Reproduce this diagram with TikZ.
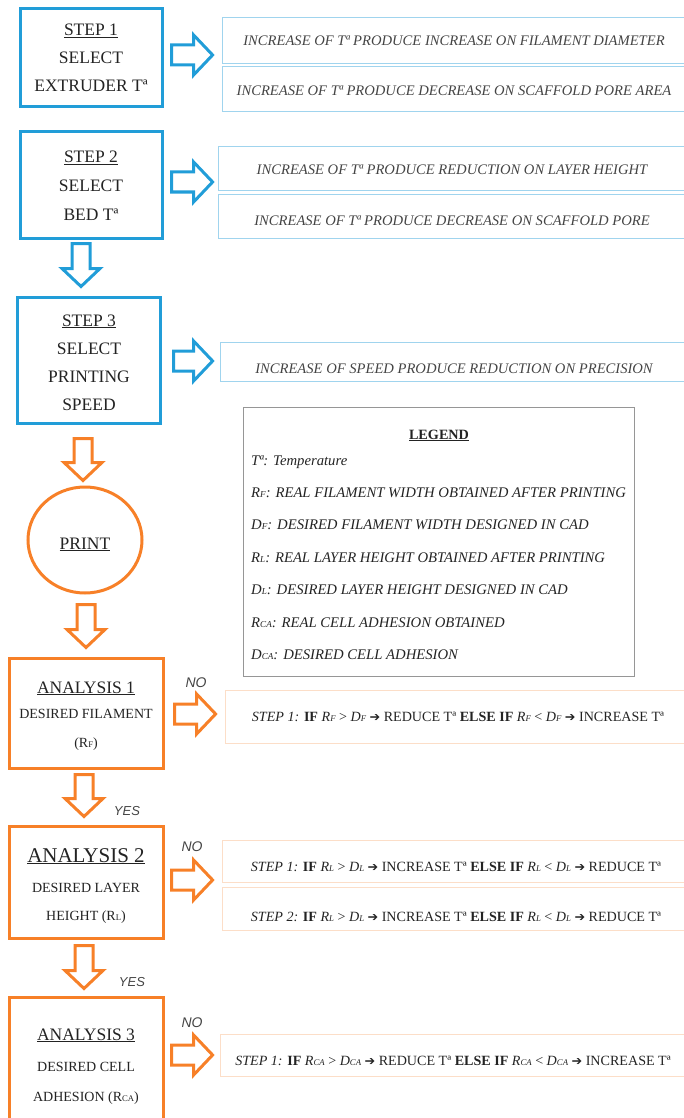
\documentclass[tikz,border=0pt]{standalone}
\usepackage{fontspec}
\setmainfont{Liberation Serif}
\newfontfamily\lsans{Liberation Sans}
\newfontfamily\djv{DejaVu Sans}
\usepackage{graphicx}
\usetikzlibrary{calc,shapes.geometric}
\definecolor{cblue}{RGB}{33,157,216}
\definecolor{corange}{RGB}{247,128,40}
\definecolor{lblue}{RGB}{160,212,238}
\definecolor{lorange}{RGB}{252,222,200}
\definecolor{lgray}{RGB}{150,150,150}
\definecolor{txt}{RGB}{35,35,35}
\newcommand\sm[1]{\scalebox{0.62}{#1}}
\newcommand\ar{{\djv\scalebox{0.9}{➔}}}
\newcommand\harrow[3]{\draw[#1] let \p1=(#2),\p2=(#3) in (\x1,\y1+10pt) -- (\x2-19pt,\y1+10pt) -- (\x2-19pt,\y1+20pt) -- (\x2,\y1) -- (\x2-19pt,\y1-20pt) -- (\x2-19pt,\y1-10pt) -- (\x1,\y1-10pt) -- cycle;}
\newcommand\varrow[3]{\draw[#1] let \p1=(#2),\p2=(#3) in (\x1-9pt,\y1) -- (\x1-9pt,\y2+18pt) -- (\x1-19pt,\y2+18pt) -- (\x1,\y2) -- (\x1+19pt,\y2+18pt) -- (\x1+9pt,\y2+18pt) -- (\x1+9pt,\y1) -- cycle;}
\begin{document}
\begin{tikzpicture}[x=1pt,y=-1pt,
  bbox/.style={draw=cblue,line width=3pt,inner sep=0pt},
  obox/.style={draw=corange,line width=3pt,inner sep=0pt},
  lbbox/.style={draw=lblue,line width=0.8pt,inner sep=0pt},
  lobox/.style={draw=lorange,line width=0.8pt,inner sep=0pt},
  barrow/.style={draw=cblue,line width=3pt,fill=white,line join=miter},
  oarrow/.style={draw=corange,line width=3pt,fill=white,line join=miter},
  st/.style={anchor=base,inner sep=0pt,text=txt,font=\fontsize{17.5}{20}\selectfont},
  sm/.style={anchor=base,inner sep=0pt,text=txt,font=\fontsize{14}{16}\selectfont},
  it/.style={anchor=base,inner sep=0pt,text=txt!85,font=\fontsize{14.6}{16}\selectfont\itshape},
  lg/.style={anchor=base west,inner sep=0pt,text=txt,font=\fontsize{14.7}{16}\selectfont\itshape},
  rule/.style={anchor=base,inner sep=0pt,text=txt,font=\fontsize{14.1}{16}\selectfont},
  yn/.style={anchor=base,inner sep=0pt,text=txt!85,font=\lsans\itshape\fontsize{13}{15}\selectfont}]
\useasboundingbox (0,0) rectangle (684,1118);
\clip (0,0) rectangle (684,1118);
% ---- left column boxes
\node[bbox,minimum width=142pt,minimum height=98pt] (s1) at (91,58) {};
\node[bbox,minimum width=142pt,minimum height=106pt] (s2) at (91,185) {};
\node[bbox,minimum width=143pt,minimum height=126pt] (s3) at (88.5,360) {};
\node[draw=corange,line width=3pt,ellipse,minimum width=114pt,minimum height=106pt,inner sep=0pt] (pr) at (85,540) {};
\node[obox,minimum width=154pt,minimum height=110pt] (a1) at (86,713) {};
\node[obox,minimum width=154pt,minimum height=112pt] (a2) at (86,882) {};
\node[obox,minimum width=154pt,minimum height=140pt] (a3) at (86,1067) {};
% ---- texts of left column
\node[st] (s1t1) at (91,36) {\underline{STEP 1}};
\node[st] (s1t2) at (91,64) {SELECT};
\node[st] (s1t3) at (91,92) {EXTRUDER Tª};
\node[st] (s2t1) at (91,163) {\underline{STEP 2}};
\node[st] (s2t2) at (91,191) {SELECT};
\node[st] (s2t3) at (91,220) {BED Tª};
\node[st] (s3t1) at (89,326) {\underline{STEP 3}};
\node[st] (s3t2) at (89,354) {SELECT};
\node[st] (s3t3) at (89,382) {PRINTING};
\node[st] (s3t4) at (89,410) {SPEED};
\node[st] (prt) at (85,549) {\underline{PRINT}};
\node[st] (a1t1) at (86,693) {\underline{ANALYSIS 1}};
\node[sm] (a1t2) at (86,718) {DESIRED FILAMENT};
\node[sm] (a1t3) at (86,747) {(R\sm{F})};
\node[st,font=\fontsize{21}{24}\selectfont] (a2t1) at (86,862) {\underline{ANALYSIS 2}};
\node[sm] (a2t2) at (86,892) {DESIRED LAYER};
\node[sm] (a2t3) at (86,920) {HEIGHT (R\sm{L})};
\node[st] (a3t1) at (86,1040) {\underline{ANALYSIS 3}};
\node[sm] (a3t2) at (86,1071) {DESIRED CELL};
\node[sm] (a3t3) at (86,1101) {ADHESION (R\sm{CA})};
% ---- right boxes
\node[lbbox,minimum width=468pt,minimum height=46pt] (r1a) at (456,40) {};
\node[lbbox,minimum width=468pt,minimum height=45pt] (r1b) at (456,88.5) {};
\node[lbbox,minimum width=472pt,minimum height=44pt] (r2a) at (454,168) {};
\node[lbbox,minimum width=472pt,minimum height=44pt] (r2b) at (454,216) {};
\node[lbbox,minimum width=470pt,minimum height=39pt] (r3) at (455,361.5) {};
\node[draw=lgray,line width=0.8pt,minimum width=391pt,minimum height=269pt,inner sep=0pt] (lgd) at (438.5,541.5) {};
\node[lobox,minimum width=465pt,minimum height=53pt] (ra1) at (457.5,716.5) {};
\node[lobox,minimum width=468pt,minimum height=42pt] (ra2a) at (456,861) {};
\node[lobox,minimum width=468pt,minimum height=43pt] (ra2b) at (456,908.5) {};
\node[lobox,minimum width=470pt,minimum height=42pt] (ra3) at (455,1055) {};
% ---- right texts
\node[it] (r1at) at (454,46) {INCREASE OF Tª PRODUCE INCREASE ON FILAMENT DIAMETER};
\node[it] (r1bt) at (454,96) {INCREASE OF Tª PRODUCE DECREASE ON SCAFFOLD PORE AREA};
\node[it] (r2at) at (452,175) {INCREASE OF Tª PRODUCE REDUCTION ON LAYER HEIGHT};
\node[it] (r2bt) at (452,225) {INCREASE OF Tª PRODUCE DECREASE ON SCAFFOLD PORE};
\node[it] (r3t) at (454,373) {INCREASE OF SPEED PRODUCE REDUCTION ON PRECISION};
\node[anchor=base,inner sep=0pt,text=txt,font=\fontsize{14.2}{16}\selectfont\bfseries] (lgt) at (439,439) {\underline{LEGEND}};
\node[lg] (l1) at (251,465) {Tª: Temperature};
\node[lg] (l2) at (251,497) {R\sm{F}: REAL FILAMENT WIDTH OBTAINED AFTER PRINTING};
\node[lg] (l3) at (251,529) {D\sm{F}: DESIRED FILAMENT WIDTH DESIGNED IN CAD};
\node[lg] (l4) at (251,562) {R\sm{L}: REAL LAYER HEIGHT OBTAINED AFTER PRINTING};
\node[lg] (l5) at (251,594) {D\sm{L}: DESIRED LAYER HEIGHT DESIGNED IN CAD};
\node[lg] (l6) at (251,627) {R\sm{CA}: REAL CELL ADHESION OBTAINED};
\node[lg] (l7) at (251,659) {D\sm{CA}: DESIRED CELL ADHESION};
\node[rule] (ra1t) at (458,721) {\textit{STEP 1:} \textbf{IF} \textit{R\sm{F}} > \textit{D\sm{F}} \ar{} REDUCE Tª \textbf{ELSE IF} \textit{R\sm{F}} < \textit{D\sm{F}} \ar{} INCREASE Tª};
\node[rule] (ra2at) at (456,871) {\textit{STEP 1:} \textbf{IF} \textit{R\sm{L}} > \textit{D\sm{L}} \ar{} INCREASE Tª \textbf{ELSE IF} \textit{R\sm{L}} < \textit{D\sm{L}} \ar{} REDUCE Tª};
\node[rule] (ra2bt) at (456,921) {\textit{STEP 2:} \textbf{IF} \textit{R\sm{L}} > \textit{D\sm{L}} \ar{} INCREASE Tª \textbf{ELSE IF} \textit{R\sm{L}} < \textit{D\sm{L}} \ar{} REDUCE Tª};
\node[rule] (ra3t) at (453,1065) {\textit{STEP 1:} \textbf{IF} \textit{R\sm{CA}} > \textit{D\sm{CA}} \ar{} REDUCE Tª \textbf{ELSE IF} \textit{R\sm{CA}} < \textit{D\sm{CA}} \ar{} INCREASE Tª};
% ---- labels
\node[yn,font=\lsans\itshape\fontsize{14}{16}\selectfont] (no1) at (196,687) {NO};
\node[yn,font=\lsans\itshape\fontsize{14}{16}\selectfont] (no2) at (192,851) {NO};
\node[yn,font=\lsans\itshape\fontsize{14}{16}\selectfont] (no3) at (192,1027) {NO};
\node[yn] (yes1) at (127,815) {YES};
\node[yn] (yes2) at (132,986) {YES};
% ---- block arrows
\harrow{barrow}{$(s1.east)+(8,-3)$}{$(r1a.west)+(-9,0)$}
\harrow{barrow}{$(s2.east)+(8,-3)$}{$(r2a.west)+(-5,0)$}
\harrow{barrow}{$(s3.east)+(12,1)$}{$(r3.west)+(-7,0)$}
\varrow{barrow}{$(s2.south)+(-10,4)$}{$(s3.north)+(-7.5,-9)$}
\varrow{oarrow}{$(s3.south)+(-5.5,14)$}{$(pr.north)+(0,-5)$}
\varrow{oarrow}{$(pr.south)+(1,10)$}{$(a1.north)+(0,-9)$}
\varrow{oarrow}{$(a1.south)+(-2,5)$}{$(a2.north)+(0,-8)$}
\varrow{oarrow}{$(a2.south)+(-2,6)$}{$(a3.north)+(0,-7)$}
\harrow{oarrow}{$(a1.east)+(10,1)$}{$(ra1.west)+(-9,0)$}
\harrow{oarrow}{$(a2.east)+(7,-2)$}{$(ra2a.west)+(-9,0)$}
\harrow{oarrow}{$(a3.east)+(7,-12)$}{$(ra3.west)+(-7,0)$}
\end{tikzpicture}
\end{document}
